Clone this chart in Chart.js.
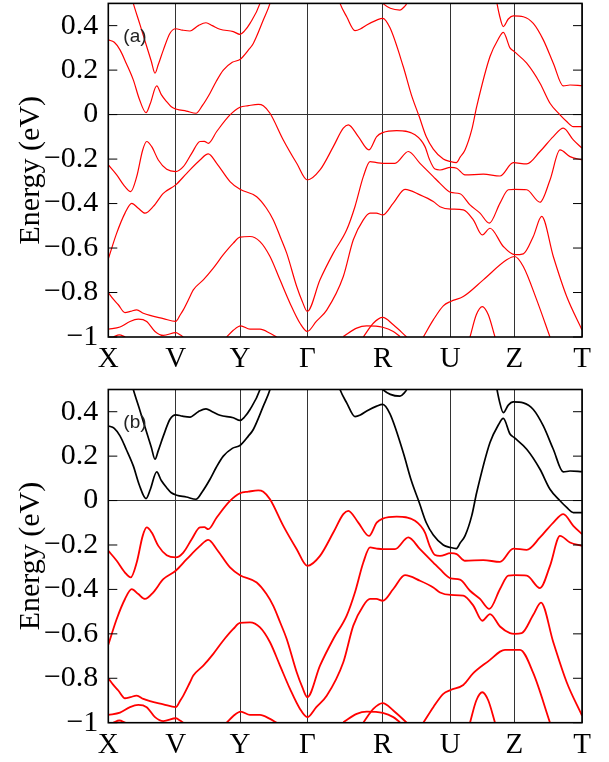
<!DOCTYPE html>
<html>
<head>
<meta charset="utf-8">
<script src="https://cdn.jsdelivr.net/npm/chart.js@4"></script>
<style>
  body { margin: 0; background: #fff; }
  .panel { position: absolute; left: 0; width: 609px; height: 381px; }
</style>
</head>
<body>
<div class="panel" style="top:0"><canvas id="bandsA" width="609" height="381"></canvas></div>
<div class="panel" style="top:381px"><canvas id="bandsB" width="609" height="381"></canvas></div>
<script>
// high-symmetry points along the k-path (arbitrary path units)
const kTicks = [0, 67.4, 131.7, 199, 274.4, 342, 406, 473.7];
const kLabels = ['X', 'V', 'Y', 'Γ', 'R', 'U', 'Z', 'T'];
const yTicks = [-1, -0.8, -0.6, -0.4, -0.2, 0, 0.2, 0.4];

// bands as [k, E(eV)]
const cb1 = [[22,0.55],[25,0.5],[32,0.4],[38.4,0.306],[43,0.24],[46.7,0.186],[50,0.225],[55,0.29],[61.7,0.366],[67.4,0.386],[74,0.38],[81.7,0.376],[90,0.4],[97.7,0.413],[104,0.4],[111.7,0.384],[125,0.373],[131.7,0.361],[136,0.375],[141.7,0.41],[151.7,0.5],[154,0.54]];
const cb2 = [[0,0.336],[6,0.325],[11.7,0.291],[18,0.23],[25,0.156],[31,0.07],[37.7,0.009],[42,0.05],[48.4,0.129],[53,0.09],[58.4,0.058],[63,0.035],[68.4,0.024],[78,0.016],[87.7,0.006],[94,0.04],[101.7,0.096],[108,0.15],[115,0.2],[124,0.235],[132,0.249],[140,0.29],[145,0.32],[155,0.425],[161.7,0.5],[164,0.54]];
const cb3 = [[270,0.52],[274.4,0.5],[282,0.478],[291.7,0.47],[296,0.485],[298.4,0.5],[300,0.52]];
const cbR = [[229,0.54],[231.7,0.5],[238.4,0.44],[246.7,0.378],[252,0.385],[258.4,0.403],[268.4,0.425],[274.4,0.433],[281.7,0.39],[295,0.215],[303,0.09],[311,-0.01],[318,-0.1],[325,-0.155],[335,-0.2],[342,-0.211],[348,-0.216],[352,-0.19],[356.7,-0.159],[363.4,-0.069],[368.4,0.036],[381.7,0.261],[390,0.34],[395,0.37],[401.7,0.3],[406,0.283],[418.4,0.231],[431.7,0.141],[441.7,0.051],[451.7,-0.001],[458.4,-0.031],[465,-0.054],[473.7,-0.054]];
const cbZ = [[387,0.54],[391,0.45],[395,0.396],[400,0.43],[405,0.444],[415,0.44],[425,0.41],[435,0.336],[445,0.231],[455,0.129],[461.7,0.133],[473.7,0.13]];

const vb1 = [[0,-0.226],[8.4,-0.271],[16.7,-0.324],[22.4,-0.346],[28.4,-0.279],[34.4,-0.159],[38.4,-0.121],[43.4,-0.144],[50,-0.204],[58.4,-0.246],[67.4,-0.256],[75,-0.234],[83.4,-0.174],[91.7,-0.121],[96,-0.12],[100,-0.129],[108.4,-0.076],[121.7,-0.0015],[131.7,0.033],[140,0.04],[150,0.046],[155,0.04],[161.7,0.006],[175,-0.114],[188.4,-0.219],[199,-0.294],[211.7,-0.249],[225,-0.144],[235,-0.061],[240,-0.046],[250,-0.099],[260.7,-0.159],[268.4,-0.099],[274.4,-0.081],[288.4,-0.072],[306.7,-0.091],[316.7,-0.144],[321,-0.2],[326.7,-0.245],[331.7,-0.249],[342.4,-0.237],[348.4,-0.241],[356.7,-0.271],[375,-0.268],[391.7,-0.276],[405,-0.216],[418.4,-0.222],[431.7,-0.166],[445,-0.099],[455,-0.061],[465,-0.114],[473.7,-0.151]];
const vb2 = [[0,-0.649],[8.4,-0.533],[16.7,-0.443],[23.4,-0.399],[30,-0.421],[36.7,-0.443],[45,-0.413],[55,-0.354],[67.4,-0.316],[78.4,-0.264],[91.7,-0.204],[100,-0.177],[108.4,-0.219],[121.7,-0.301],[131.7,-0.336],[148.4,-0.369],[158,-0.42],[165,-0.474],[172,-0.55],[178.4,-0.623],[188.4,-0.773],[194,-0.84],[199,-0.885],[211.7,-0.743],[225,-0.623],[238.4,-0.518],[246.7,-0.413],[255,-0.279],[261.7,-0.211],[268.4,-0.216],[274.4,-0.219],[286.7,-0.219],[300,-0.166],[311.7,-0.219],[325,-0.279],[331.7,-0.309],[342.4,-0.35],[351.7,-0.356],[361.7,-0.406],[371.7,-0.443],[381,-0.488],[391.7,-0.398],[400,-0.338],[406.4,-0.336],[418.4,-0.338],[431.7,-0.394],[441.7,-0.294],[451.7,-0.159],[461.7,-0.189],[473.7,-0.204]];
const vb3a = [[0,-0.8],[5,-0.83],[10,-0.855],[16.7,-0.89],[22,-0.885],[28.4,-0.878],[35,-0.893],[41.7,-0.903],[55,-0.917],[67.4,-0.93],[72,-0.9],[75,-0.878],[81.7,-0.818],[85,-0.788],[95,-0.743],[105,-0.69],[115,-0.63],[125,-0.578],[131.7,-0.551],[141.7,-0.548],[151.7,-0.571],[161.7,-0.638],[171.7,-0.743],[181.7,-0.848],[191.7,-0.938],[199,-0.975],[208,-0.93],[218.4,-0.879],[235,-0.728],[245,-0.563],[255,-0.473],[261.7,-0.443],[268,-0.443],[274.4,-0.451],[285,-0.398],[296.7,-0.336],[311.7,-0.361],[325,-0.391],[331.7,-0.414],[342.4,-0.425],[355,-0.428],[365,-0.473],[374,-0.541],[381.7,-0.511],[395,-0.593],[406.4,-0.63],[415,-0.626],[425,-0.548],[433.4,-0.458],[445,-0.638],[458.4,-0.818],[473.7,-0.968]];
const vb3b = [[0,-0.8],[5,-0.83],[10,-0.855],[16.7,-0.89],[22,-0.885],[28.4,-0.878],[35,-0.893],[41.7,-0.903],[55,-0.917],[67.4,-0.93],[72,-0.9],[75,-0.878],[81.7,-0.818],[85,-0.788],[95,-0.743],[105,-0.69],[115,-0.63],[125,-0.578],[131.7,-0.551],[141.7,-0.548],[151.7,-0.571],[161.7,-0.638],[171.7,-0.743],[181.7,-0.848],[191.7,-0.938],[199,-0.975],[208,-0.93],[218.4,-0.879],[235,-0.728],[245,-0.563],[255,-0.473],[261.7,-0.443],[268,-0.443],[274.4,-0.451],[285,-0.398],[296.7,-0.336],[311.7,-0.361],[325,-0.391],[331.7,-0.414],[342.4,-0.425],[355,-0.428],[365,-0.473],[374,-0.541],[381.7,-0.511],[391.7,-0.567],[401.7,-0.597],[406.4,-0.6],[413.4,-0.597],[425,-0.514],[432.7,-0.459],[445,-0.638],[458.4,-0.818],[473.7,-0.968]];
const vb4a = [[315,-1.0],[325,-0.923],[335,-0.86],[342.4,-0.84],[355,-0.818],[375,-0.743],[398.4,-0.653],[406.4,-0.638],[415,-0.683],[428.4,-0.833],[441.7,-1.0]];
const vb4b = [[315,-1.0],[325,-0.93],[335,-0.87],[342.4,-0.853],[355,-0.83],[365,-0.777],[381.7,-0.717],[391.7,-0.68],[396.7,-0.672],[411.7,-0.672],[425,-0.777],[441.7,-1.0]];
const vb5 = [[0,-0.965],[11.7,-0.955],[21.7,-0.93],[30,-0.92],[38.4,-0.93],[46.7,-0.975],[55,-0.993],[67.7,-0.98],[71.7,-0.99],[75,-1.0]];
const vb6 = [[5,-1.0],[11,-0.99],[17,-1.0]];
const vb7 = [[118.4,-1.0],[125,-0.97],[132.4,-0.95],[141.7,-0.965],[151.7,-0.965],[161.7,-0.983],[168.4,-1.0]];
const vb8 = [[235,-0.998],[248.4,-0.96],[258.4,-0.95],[274.4,-0.956],[285,-0.975],[291.7,-0.998]];
const vb9 = [[255,-1.0],[265,-0.938],[274.4,-0.912],[285,-0.945],[298.4,-1.0]];
const vb10 = [[361.7,-1.0],[368,-0.9],[374,-0.863],[380,-0.9],[386.7,-1.0]];

const serif = '"Liberation Serif", "Times New Roman", serif';

function toSet(band, color, width) {
    return {
        data: band.map(p => ({ x: p[0], y: p[1] })),
        borderColor: color,
        borderWidth: width,
        pointRadius: 0,
        showLine: true,
        fill: false,
        cubicInterpolationMode: 'monotone',
    };
}

const framePlugin = {
    id: 'frame',
    afterDraw(chart, args, opts) {
        const { ctx, chartArea: a, scales } = chart;
        ctx.save();
        ctx.strokeStyle = '#000';
        ctx.lineWidth = 1;
        yTicks.forEach(v => {
            const py = scales.y.getPixelForValue(v);
            ctx.beginPath();
            ctx.moveTo(a.left, py); ctx.lineTo(a.left + 9, py);
            ctx.moveTo(a.right, py); ctx.lineTo(a.right - 9, py);
            ctx.stroke();
        });
        ctx.lineWidth = 1.6;
        ctx.strokeRect(a.left, a.top, a.right - a.left, a.bottom - a.top);
        ctx.font = '19px "Liberation Sans"';
        ctx.fillStyle = '#222';
        ctx.textBaseline = 'middle';
        ctx.fillText(opts.tag, a.left + 15, a.top + 33);
        ctx.restore();
    },
};

function makeChart(id, sets, tag, padTop, xHeight) {
    return new Chart(document.getElementById(id), {
        type: 'scatter',
        data: { datasets: sets },
        options: {
            responsive: false,
            animation: false,
            devicePixelRatio: 1,
            layout: { padding: { top: padTop, right: 27, left: 0, bottom: 0 } },
            plugins: { legend: { display: false }, tooltip: { enabled: false }, frame: { tag: tag } },
            scales: {
                x: {
                    type: 'linear',
                    min: 0,
                    max: 473.7,
                    afterBuildTicks: s => { s.ticks = kTicks.map(v => ({ value: v })); },
                    afterFit: s => { s.height = xHeight; s.paddingLeft = 0; s.paddingRight = 0; },
                    ticks: {
                        autoSkip: false,
                        maxRotation: 0,
                        padding: 5,
                        color: '#000',
                        font: { family: serif, size: 29 },
                        callback: (v, i) => kLabels[i],
                    },
                    grid: { color: '#333', lineWidth: 1, drawTicks: false },
                    border: { display: false },
                },
                y: {
                    min: -1,
                    max: 0.5,
                    afterBuildTicks: s => { s.ticks = yTicks.map(v => ({ value: v })); },
                    afterFit: s => { s.width = 108.3; s.paddingTop = 0; s.paddingBottom = 0; },
                    ticks: {
                        padding: 10,
                        color: '#000',
                        font: { family: serif, size: 30 },
                        callback: v => (v < 0 ? '\u2212' + String(-v) : String(v)),
                    },
                    grid: {
                        drawTicks: false,
                        lineWidth: 1,
                        color: c => (c.tick && c.tick.value === 0 ? '#333' : 'rgba(0,0,0,0)'),
                    },
                    border: { display: false },
                    title: {
                        display: true,
                        text: 'Energy (eV)',
                        color: '#000',
                        font: { family: serif, size: 30 },
                        padding: { top: 13, bottom: 0 },
                    },
                },
            },
        },
        plugins: [framePlugin],
    });
}

const red = '#ff0000';
const setsA = [cb1, cb2, cb3, cbR, cbZ, vb1, vb2, vb3a, vb4a, vb5, vb6, vb7, vb8, vb9, vb10]
    .map(b => toSet(b, red, 1.2));
const setsB = [cb1, cb2, cb3, cbR, cbZ].map(b => toSet(b, '#000', 1.7))
    .concat([vb1, vb2, vb3b, vb4b, vb5, vb6, vb7, vb8, vb9, vb10].map(b => toSet(b, red, 1.8)));

makeChart('bandsA', setsA, '(a)', 3.4, 44);
makeChart('bandsB', setsB, '(b)', 8.5, 39.3);
</script>
</body>
</html>
